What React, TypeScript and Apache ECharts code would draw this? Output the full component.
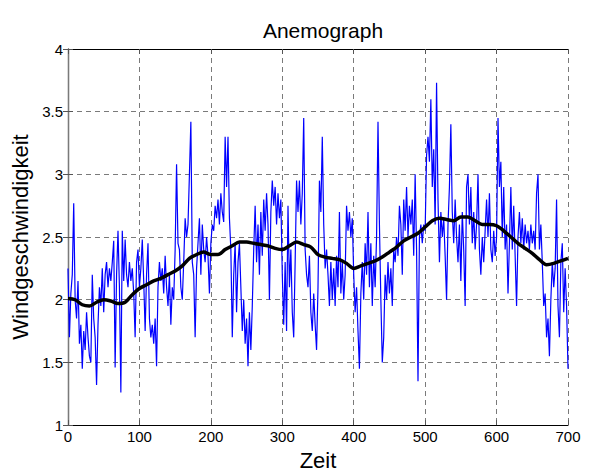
import React, { useEffect, useRef } from "react";
import * as echarts from "echarts";

const xStep = 2;
const windSpeed = [
  2.25, 1.70, 2.05, 2.20, 2.77, 2.00, 1.85, 2.15, 1.65, 1.80, 1.45,
  1.75, 1.60, 1.90, 1.70, 1.55, 1.50, 2.20, 1.85, 1.70, 1.32,
  1.80, 2.10, 1.95, 2.25, 1.90, 2.20, 2.30, 2.10, 2.25, 2.15,
  2.30, 2.47, 1.46, 2.20, 2.55, 2.10, 1.26, 2.55, 2.15, 2.48,
  2.20, 2.10, 2.30, 2.15, 2.25, 2.05, 1.70, 2.30, 2.40, 2.10,
  2.25, 2.48, 2.15, 1.75, 2.20, 2.45, 1.85, 1.70, 1.80, 1.65,
  1.85, 1.47, 2.10, 2.30, 2.15, 2.25, 2.05, 2.35, 2.10, 1.95,
  2.20, 1.80, 2.10, 2.00, 2.40, 3.08, 2.45, 2.40, 2.10, 2.00,
  2.30, 2.65, 2.50, 2.60, 3.00, 3.42, 2.30, 2.20, 1.70, 2.25,
  2.45, 2.65, 2.20, 2.60, 2.40, 2.30, 2.50, 2.35, 2.05, 2.45,
  2.60, 2.55, 2.75, 2.65, 2.80, 2.60, 2.85, 2.70, 2.62, 3.30,
  2.90, 3.30, 2.65, 2.40, 1.70, 2.20, 2.45, 1.90, 2.30, 2.45,
  2.10, 1.75, 2.00, 1.65, 1.85, 1.47, 1.90, 1.60, 1.95, 2.40,
  2.75, 2.30, 2.60, 2.20, 2.70, 2.35, 2.80, 2.55, 2.85, 2.60,
  2.00, 2.70, 2.95, 2.75, 2.90, 2.60, 2.85, 2.65, 2.80, 2.20,
  1.80, 2.30, 1.75, 2.75, 2.10, 2.40, 1.90, 1.70, 2.30, 2.95,
  2.70, 2.95, 2.60, 2.85, 3.45, 2.40, 2.20, 2.10, 2.35, 1.90,
  1.75, 2.05, 1.80, 1.60, 2.10, 2.95, 2.70, 3.30, 2.60, 2.25,
  2.40, 2.20, 1.95, 2.30, 2.00, 2.25, 1.95, 2.35, 2.10, 2.70,
  2.05, 2.30, 2.00, 2.20, 2.75, 2.55, 2.70, 2.50, 2.65, 2.20,
  1.90, 2.10, 1.75, 1.45, 2.05, 2.30, 2.00, 2.45, 2.20, 2.70,
  2.10, 2.45, 1.95, 2.35, 2.10, 2.50, 3.42, 2.60, 2.00, 1.50,
  1.70, 2.20, 2.00, 2.30, 2.05, 2.25, 1.95, 2.40, 2.30, 2.50,
  2.35, 2.75, 2.60, 2.20, 2.80, 2.55, 2.90, 2.50, 2.75, 2.60,
  2.80, 2.35, 3.00, 2.40, 1.35, 2.50, 2.60, 2.45, 2.60, 2.55,
  3.15, 3.30, 3.10, 3.60, 2.90, 3.20, 2.60, 3.73, 2.80, 2.30,
  2.70, 2.50, 2.65, 2.35, 2.00, 2.60, 2.90, 3.40, 2.70, 2.45,
  2.80, 2.50, 2.30, 2.60, 2.15, 2.70, 2.40, 1.95, 2.90, 3.00,
  2.60, 2.90, 2.45, 2.70, 2.40, 2.60, 3.00, 2.40, 2.20, 2.50,
  2.30, 2.55, 2.80, 2.50, 2.85, 2.40, 2.30, 2.55, 2.35, 2.50,
  3.45, 2.90, 3.10, 2.50, 2.90, 2.40, 2.60, 2.05, 2.45, 2.90,
  2.40, 2.75, 2.35, 1.95, 2.50, 2.70, 2.45, 2.65, 2.40, 2.60,
  2.45, 2.55, 2.40, 2.60, 2.45, 2.55, 2.40, 2.85, 3.00, 2.40,
  2.60, 2.30, 1.95, 2.05, 1.70, 1.85, 1.55, 2.00, 2.30, 2.10,
  2.25, 2.80, 1.95, 1.70, 2.30, 2.45, 1.90, 2.25, 1.95, 1.45,
];

const trendStep = 10;
const trend = [
  2.01, 2.00, 1.96, 1.95, 1.98, 2.00, 1.99, 1.97, 1.98, 2.04,
  2.09, 2.12, 2.15, 2.17, 2.20, 2.23, 2.27, 2.33, 2.36, 2.38,
  2.36, 2.36, 2.40, 2.43, 2.46, 2.46, 2.45, 2.44, 2.43, 2.41,
  2.40, 2.43, 2.46, 2.44, 2.42, 2.36, 2.34, 2.33, 2.32, 2.29,
  2.25, 2.27, 2.29, 2.31, 2.34, 2.38, 2.42, 2.47, 2.50, 2.53,
  2.58, 2.63, 2.65, 2.64, 2.63, 2.66, 2.66, 2.63, 2.60, 2.60,
  2.59, 2.55, 2.50, 2.45, 2.41, 2.37, 2.32, 2.28, 2.29, 2.31,
  2.33,
];

const xTicks = [0, 100, 200, 300, 400, 500, 600, 700];
const yTicks = [1, 1.5, 2, 2.5, 3, 3.5, 4];

export default function App() {
  const ref = useRef<HTMLDivElement>(null);
  useEffect(() => {
    document.body.style.margin = "0";
    const chart = echarts.init(ref.current!, undefined, { renderer: "svg" });
    const font = "'Liberation Sans', Arial, sans-serif";
    const windData = windSpeed.map((v, i) => [i * xStep, v]);
    const trendData = trend.map((v, i) => [i * trendStep, v]);
    const blackLine = { show: true, lineStyle: { color: "#000", width: 1 } };
    const grayLine = { show: true, lineStyle: { color: "#7a7a7a", width: 1.3 } };
    const split = { show: true, lineStyle: { color: "#7a7a7a", type: [5, 4], width: 1 } };
    const tick = { show: true, inside: true, length: 5, lineStyle: { color: "#555" } };
    chart.setOption({
      animation: false,
      backgroundColor: "#fff",
      title: {
        text: "Anemograph",
        left: 318,
        top: 15,
        textAlign: "center",
        textStyle: { fontFamily: font, fontSize: 21, fontWeight: "normal", color: "#000" },
      },
      grid: { left: 68, right: 25, top: 49, bottom: 46 },
      xAxis: [
        {
          type: "value",
          min: xTicks[0],
          max: xTicks[xTicks.length - 1],
          interval: 100,
          name: "Zeit",
          nameLocation: "middle",
          nameGap: 21,
          nameTextStyle: { fontFamily: font, fontSize: 22, color: "#000" },
          axisLine: blackLine,
          axisTick: tick,
          axisLabel: { fontFamily: font, fontSize: 15, color: "#000", margin: 4 },
          splitLine: split,
        },
        {
          type: "value",
          position: "top",
          min: xTicks[0],
          max: xTicks[xTicks.length - 1],
          interval: 100,
          axisLine: blackLine,
          axisTick: tick,
          axisLabel: { show: false },
          splitLine: { show: false },
        },
      ],
      yAxis: [
        {
          type: "value",
          min: yTicks[0],
          max: yTicks[yTicks.length - 1],
          interval: 0.5,
          name: "Windgeschwindigkeit",
          nameLocation: "middle",
          nameGap: 28,
          nameTextStyle: { fontFamily: font, fontSize: 22, color: "#000" },
          axisLine: grayLine,
          axisTick: tick,
          axisLabel: { fontFamily: font, fontSize: 15, color: "#000", margin: 5 },
          splitLine: split,
        },
        {
          type: "value",
          position: "right",
          min: yTicks[0],
          max: yTicks[yTicks.length - 1],
          interval: 0.5,
          axisLine: grayLine,
          axisTick: tick,
          axisLabel: { show: false },
          splitLine: { show: false },
        },
      ],
      series: [
        {
          type: "line",
          data: windData,
          showSymbol: false,
          symbol: "none",
          lineStyle: { color: "#0000ff", width: 1.2 },
          z: 2,
        },
        {
          type: "line",
          data: trendData,
          showSymbol: false,
          symbol: "none",
          smooth: 0.3,
          lineStyle: { color: "#000", width: 3.5 },
          z: 3,
        },
      ],
    });
    return () => chart.dispose();
  }, []);
  return <div ref={ref} style={{ width: 593, height: 476 }} />;
}
